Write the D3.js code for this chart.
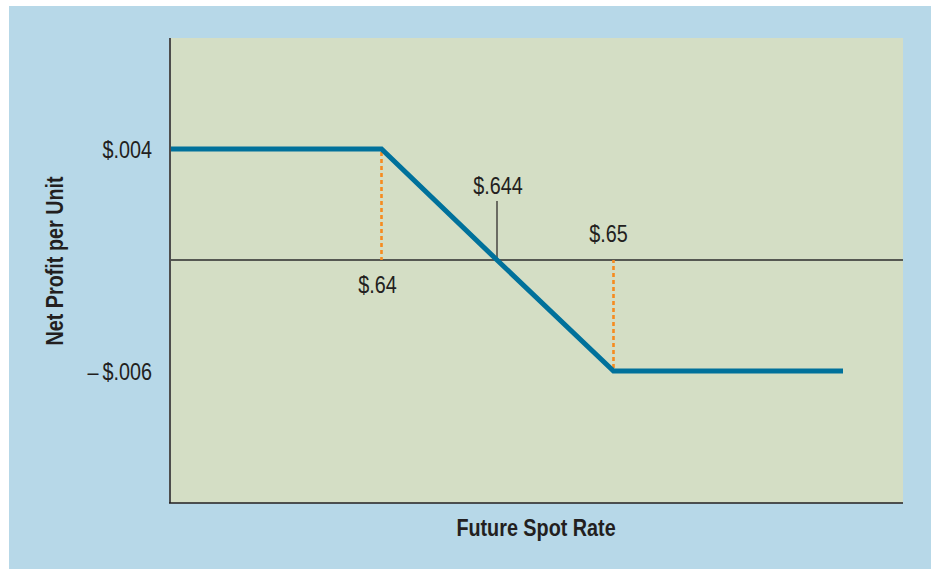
<!DOCTYPE html>
<html>
<head>
<meta charset="utf-8">
<script src="https://cdn.jsdelivr.net/npm/d3@7"></script>
<style>
  html, body { margin: 0; padding: 0; background: #ffffff; }
  svg { display: block; }
  text { font-family: "Liberation Sans", Arial, sans-serif; fill: #231f20; }
</style>
</head>
<body>
<script>
// ---- data ----
const spotRates = [0.632, 0.64, 0.644, 0.65, 0.662];       // future spot rate
const netProfit = [0.004, 0.004, 0, -0.006, -0.006];       // net profit per unit
const xMarks = [
  {rate: 0.64,  label: "$.64"},
  {rate: 0.644, label: "$.644"},
  {rate: 0.65,  label: "$.65"}
];
const yTickValues = [0.004, -0.006];
const yTickLabels = ["$.004", "\u2013\u2009$.006"];
const xTitle = "Future Spot Rate";
const yTitle = "Net Profit per Unit";

// ---- layout ----
const W = 931, H = 569;
const plot = {left: 170, right: 903, top: 38, bottom: 503};
const FS = 23, SX = 0.86;   // condensed look

const svg = d3.select("body").append("svg").attr("width", W).attr("height", H);

// panel background
svg.append("rect").attr("x", 9).attr("y", 6).attr("width", W - 9).attr("height", H - 6)
  .attr("fill", "#b7d8e8");
svg.append("rect").attr("x", plot.left).attr("y", plot.top)
  .attr("width", plot.right - plot.left).attr("height", plot.bottom - plot.top)
  .attr("fill", "#d4dec5");

// schematic (piecewise) scales, as in the original figure
const x = d3.scaleLinear()
  .domain([0.632, 0.64, 0.644, 0.65, 0.662, 0.665])
  .range([plot.left, 381.5, 497, 613.5, 843, plot.right]);
const y = d3.scaleLinear()
  .domain([-0.0107, -0.006, 0, 0.004, 0.008])
  .range([plot.bottom, 371, 260, 149, plot.top]);

// zero line
svg.append("line")
  .attr("x1", plot.left).attr("x2", plot.right)
  .attr("y1", y(0)).attr("y2", y(0))
  .attr("stroke", "#2b2b2b").attr("stroke-width", 1.3);

// orange dashed guides from the breakpoints to the zero line
const guides = [0.64, 0.65];
guides.forEach(r => {
  const i = spotRates.indexOf(r);
  svg.append("line")
    .attr("x1", x(r)).attr("x2", x(r))
    .attr("y1", y(netProfit[i]) + (netProfit[i] > 0 ? 3 : -3)).attr("y2", y(0))
    .attr("stroke", "#f68b1f").attr("stroke-width", 2.6)
    .attr("stroke-dasharray", "4,3");
});

// break-even tick
svg.append("line")
  .attr("x1", x(0.644)).attr("x2", x(0.644))
  .attr("y1", 201).attr("y2", y(0))
  .attr("stroke", "#231f20").attr("stroke-width", 1.2);

// profit line
const line = d3.line().x((d, i) => x(spotRates[i])).y(d => y(d));
svg.append("path").datum(netProfit)
  .attr("d", line)
  .attr("fill", "none")
  .attr("stroke", "#00719b")
  .attr("stroke-width", 5)
  .attr("stroke-linejoin", "miter");

// axes lines
svg.append("line")
  .attr("x1", plot.left).attr("x2", plot.left)
  .attr("y1", plot.top).attr("y2", plot.bottom)
  .attr("stroke", "#4d4d4d").attr("stroke-width", 2);
svg.append("line")
  .attr("x1", plot.left - 1).attr("x2", plot.right)
  .attr("y1", plot.bottom).attr("y2", plot.bottom)
  .attr("stroke", "#231f20").attr("stroke-width", 1.5);

function label(tx, ty, txt, anchor, bold, rot) {
  return svg.append("text")
    .attr("transform", `translate(${tx},${ty})` + (rot ? ` rotate(${rot})` : "") + ` scale(${SX},1)`)
    .attr("text-anchor", anchor)
    .attr("font-size", FS)
    .attr("font-weight", bold ? "bold" : "normal")
    .text(txt);
}

// y tick labels
yTickValues.forEach((v, i) => {
  label(152, y(v) + 8.5, yTickLabels[i], "end", false);
});

// x markers labels
const labelPos = {0.64: {dx: -4, y: 293}, 0.644: {dx: 1, y: 194}, 0.65: {dx: -5, y: 242}};
xMarks.forEach(m => {
  label(x(m.rate) + labelPos[m.rate].dx, labelPos[m.rate].y, m.label, "middle", false);
});

// titles
label(536, 536, xTitle, "middle", true);
label(63, 261, yTitle, "middle", true, -90);
</script>
</body>
</html>
